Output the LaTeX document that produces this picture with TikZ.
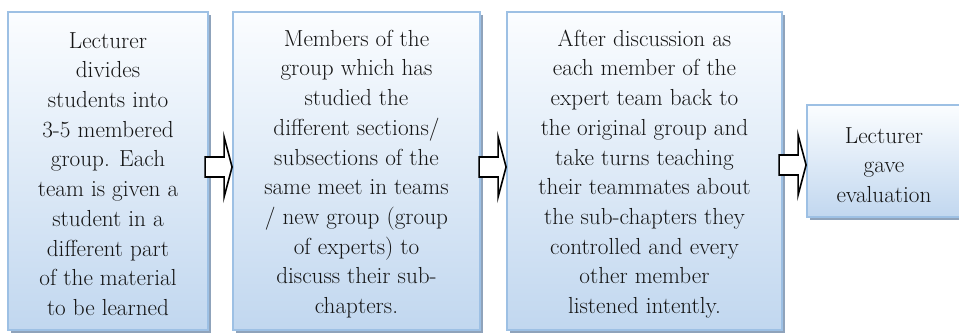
\documentclass[tikz,border=0pt]{standalone}
\usetikzlibrary{shadows,calc}
\definecolor{boxline}{HTML}{9DC0E4}
\definecolor{boxtop}{HTML}{FBFDFF}
\definecolor{boxmid}{HTML}{E6EFF9}
\definecolor{boxbot}{HTML}{C1D7EF}
\definecolor{shadowc}{HTML}{8FA3BB}
\tikzset{
  box/.style={draw=boxline, line width=1.8pt, top color=boxtop, middle color=boxmid, bottom color=boxbot,
    inner sep=0pt,
    drop shadow={shadow xshift=3pt, shadow yshift=-3pt, fill=shadowc, opacity=1}},
  txt/.style={align=center, text=black!92, inner sep=0pt,
    font=\fontsize{23.2}{29.7}\selectfont},
  blockarrow/.style={draw=black, line width=1.6pt, fill=white, line join=miter}
}
\newcommand{\blockarr}[2]{% #1 tip coordinate name, #2 shaft length
  \draw[blockarrow] ($(#1)+(-8-#2,-10)$) -- ($(#1)+(-8,-10)$) -- ($(#1)+(-8,-30)$)
    -- (#1) -- ($(#1)+(-8,30)$) -- ($(#1)+(-8,10)$) -- ($(#1)+(-8-#2,10)$) -- cycle;}
\begin{document}
\begin{tikzpicture}[x=1pt,y=-1pt]
\clip (0,0) rectangle (959,333);
\fill[white] (0,0) rectangle (959,333);
\node[box, minimum width=200pt, minimum height=318pt] (b1) at (108,171) {};
\node[box, minimum width=247pt, minimum height=318pt] (b2) at (356.5,171) {};
\node[box, minimum width=275pt, minimum height=318pt] (b3) at (644.5,171) {};
\node[box, minimum width=154pt, minimum height=112pt] (b4) at (884,161) {};
\node[txt] (t1) at ($(b1.center)+(0,3)$) {Lecturer\\divides\\students into\\3-5 membered\\group. Each\\team is given a\\student in a\\different part\\of the material\\to be learned};
\node[txt] (t2) at ($(b2.center)+(0,3)$) {Members of the\\group which has\\studied the\\different sections/\\subsections of the\\same meet in teams\\/ new group (group\\of experts) to\\discuss their sub-\\chapters.};
\node[txt] (t3) at ($(b3.center)+(0,3)$) {After discussion as\\each member of the\\expert team back to\\the original group and\\take turns teaching\\their teammates about\\the sub-chapters they\\controlled and every\\other member\\listened intently.};
\node[txt] (t4) at ($(b4.center)+(0,4)$) {Lecturer\\gave\\evaluation};
\coordinate (a1) at ($(b2.west)+(0,-4)$);
\coordinate (a2) at ($(b3.west)+(0,-4)$);
\coordinate (a3) at ($(b4.west)+(0,4)$);
\blockarr{a1}{19}
\blockarr{a2}{19}
\blockarr{a3}{19}
\end{tikzpicture}
\end{document}
